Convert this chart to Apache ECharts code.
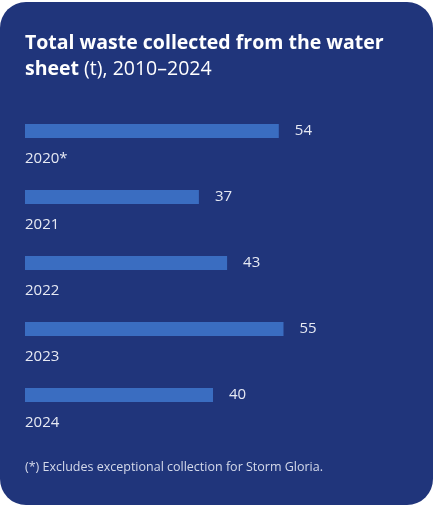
<!DOCTYPE html>
<html lang="en">
<head>
  <meta charset="UTF-8">
  <title>Total waste collected from the water sheet</title>
  <script src="https://cdn.jsdelivr.net/npm/echarts@6/dist/echarts.min.js"></script>
  <style>
    html, body { margin: 0; padding: 0; background: #ffffff; }
  </style>
</head>
<body>
  <div id="container" style="width: 438px;height:508px;"></div>
  <script>
    // data
    var years = ['2020*', '2021', '2022', '2023', '2024'];
    var tonnes = [54, 37, 43, 55, 40];

    var panelBlue = '#20357b';
    var barBlue = '#3a6dc1';
    var textColor = '#e6e9f3';
    var font = '"Open Sans", "Noto Sans", sans-serif';

    var myChart = echarts.init(document.getElementById('container'));

    myChart.setOption({
      backgroundColor: '#ffffff',
      textStyle: { fontFamily: font },
      graphic: [
        {
          type: 'rect',
          z: -10,
          silent: true,
          shape: { x: 0, y: 2, width: 433, height: 503, r: 26 },
          style: { fill: panelBlue }
        },
        {
          type: 'text',
          left: 25,
          top: 33,
          style: {
            text: '{b|Total waste collected from the water}\n{b|sheet}{n| (t), 2010–2024}',
            rich: {
              b: { fontFamily: font, fontWeight: 'bold', fontSize: 19.5, lineHeight: 26, fill: '#ffffff' },
              n: { fontFamily: font, fontSize: 19.5, lineHeight: 26, fill: '#ffffff' }
            }
          }
        },
        {
          type: 'text',
          left: 25,
          top: 461,
          style: {
            text: '(*) Excludes exceptional collection for Storm Gloria.',
            fontFamily: font,
            fontSize: 12.5,
            fill: '#d4d9ea'
          }
        }
      ],
      grid: {
        left: 25,
        right: 131,
        top: 98,
        bottom: 80,
        containLabel: false
      },
      xAxis: {
        type: 'value',
        min: 0,
        max: 60,
        show: false
      },
      yAxis: {
        type: 'category',
        inverse: true,
        data: years,
        axisLine: { show: false },
        axisTick: { show: false },
        splitLine: { show: false },
        axisLabel: {
          inside: true,
          margin: 0,
          align: 'left',
          verticalAlign: 'top',
          padding: [20, 0, 0, 0],
          color: textColor,
          fontFamily: font,
          fontSize: 15
        }
      },
      series: [
        {
          type: 'bar',
          data: tonnes,
          barWidth: 14,
          itemStyle: { color: barBlue },
          label: {
            show: true,
            position: 'right',
            distance: 16,
            color: textColor,
            fontFamily: font,
            fontSize: 15
          }
        }
      ]
    });
  </script>
</body>
</html>
